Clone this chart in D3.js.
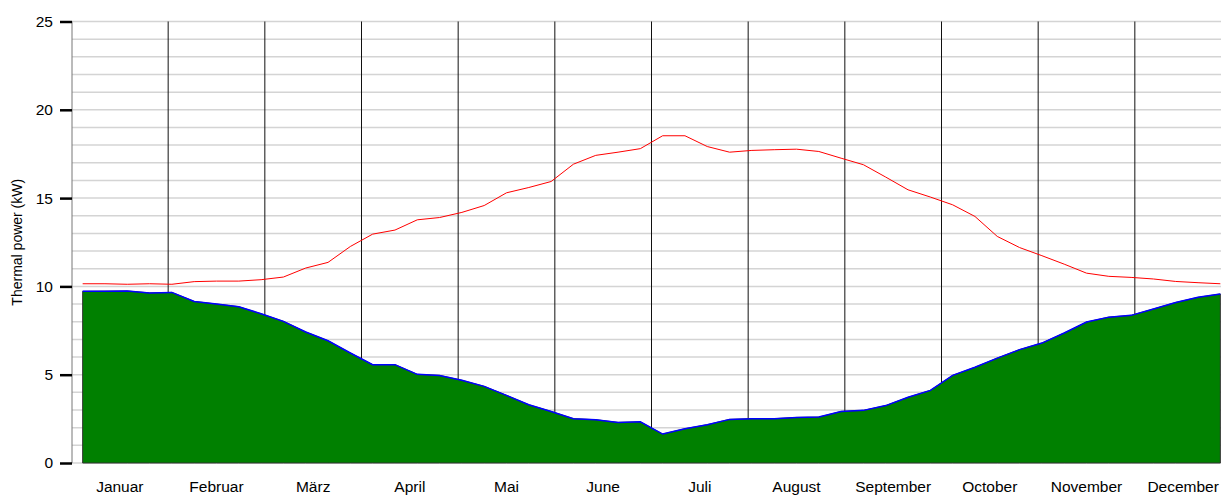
<!DOCTYPE html>
<html>
<head>
<meta charset="utf-8">
<script src="https://cdn.jsdelivr.net/npm/d3@7"></script>
<style>
  body { margin: 0; background: #fff; }
  svg { display: block; font-family: "Liberation Sans", Arial, sans-serif; }
</style>
</head>
<body>
<div id="chart"></div>
<script>
// month names on the x axis
var months = ["Januar", "Februar", "März", "April", "Mai", "June", "Juli",
              "August", "September", "October", "November", "December"];

// weekly values (52 weeks), kW
var upperLine = [10.15, 10.15, 10.12, 10.15, 10.12, 10.27, 10.3, 10.3, 10.38, 10.53,
                 11.04, 11.36, 12.26, 12.96, 13.19, 13.77, 13.9, 14.19, 14.58, 15.3,
                 15.6, 15.94, 16.92, 17.42, 17.6, 17.8, 18.53, 18.53, 17.92, 17.6,
                 17.7, 17.74, 17.77, 17.64, 17.26, 16.89, 16.19, 15.47, 15.06, 14.62,
                 13.96, 12.83, 12.2, 11.74, 11.26, 10.75, 10.57, 10.51, 10.42, 10.28,
                 10.21, 10.15];

var greenArea = [9.72, 9.73, 9.74, 9.63, 9.66, 9.15, 9.0, 8.85, 8.45, 8.02,
                 7.42, 6.92, 6.23, 5.57, 5.57, 5.02, 4.96, 4.68, 4.34, 3.83,
                 3.3, 2.92, 2.51, 2.45, 2.3, 2.33, 1.64, 1.94, 2.17, 2.47,
                 2.51, 2.51, 2.58, 2.6, 2.92, 2.98, 3.25, 3.72, 4.11, 4.96,
                 5.42, 5.94, 6.42, 6.79, 7.36, 7.98, 8.26, 8.36, 8.72, 9.09,
                 9.38, 9.57];

var yTicks = [0, 5, 10, 15, 20, 25];

var svgW = 1221, svgH = 495;
var plotLeft = 71.5, plotTop = 21.5, plotW = 1160, plotBottom = 463;

var svg = d3.select("#chart").append("svg")
            .attr("width", svgW)
            .attr("height", svgH);

// x in months (0..12), weekly points at week centres
var x = d3.scaleLinear().domain([0, 12]).range([plotLeft, plotLeft + plotW]);
var y = d3.scaleLinear().domain([0, 25]).range([plotBottom, plotTop]);
var weekX = function(i){ return x((i + 0.5) * 12 / 52); };

// horizontal grid every 1 kW
var grid = svg.append("g").attr("class", "grid");
grid.selectAll("line").data(d3.range(0, 26)).enter().append("line")
    .attr("x1", 72).attr("x2", svgW)
    .attr("y1", function(d){ return y(d); })
    .attr("y2", function(d){ return y(d); })
    .style("stroke", "#d4d4d4")
    .style("stroke-width", 1.5);

// month separators
svg.append("g").selectAll("line").data(d3.range(1, 12)).enter().append("line")
    .attr("x1", function(d){ return x(d); })
    .attr("x2", function(d){ return x(d); })
    .attr("y1", plotTop).attr("y2", plotBottom)
    .style("stroke", "#111")
    .style("stroke-width", 1);

// green area
var area = d3.area()
    .x(function(d, i){ return weekX(i); })
    .y0(y(0))
    .y1(function(d){ return y(d); });

svg.append("path").datum(greenArea)
    .attr("d", area)
    .style("fill", "#008000")
    .style("stroke", "#333")
    .style("stroke-width", 1);

var line = d3.line()
    .x(function(d, i){ return weekX(i); })
    .y(function(d){ return y(d); });

svg.append("path").datum(greenArea)
    .attr("d", line)
    .style("fill", "none")
    .style("stroke", "#0000ff")
    .style("stroke-width", 1.5);

svg.append("path").datum(upperLine)
    .attr("d", line)
    .style("fill", "none")
    .style("stroke", "#ff0000")
    .style("stroke-width", 1);

// y axis
var yAxis = d3.axisLeft(y).tickValues(yTicks).tickSize(12).tickPadding(7);
var yAxisGroup = svg.append("g")
    .attr("transform", "translate(72,0)")
    .call(yAxis);
yAxisGroup.select(".domain").style("stroke", "#777").attr("d", "M0," + plotTop + "V" + plotBottom);
yAxisGroup.selectAll(".tick line").style("stroke", "#000").style("stroke-width", 2.5);
yAxisGroup.selectAll("text").style("font-size", "15.5px").style("fill", "#000")
    .style("font-family", "'Liberation Sans', Arial, sans-serif");

// month labels
svg.append("g").selectAll("text").data(months).enter().append("text")
    .attr("x", function(d, i){ return x(i + 0.5); })
    .attr("y", 492)
    .attr("text-anchor", "middle")
    .style("font-size", "15.5px")
    .text(function(d){ return d; });

// y title
svg.append("text")
    .attr("transform", "translate(22," + ((plotTop + plotBottom) / 2) + ") rotate(-90)")
    .attr("text-anchor", "middle")
    .style("font-size", "14px")
    .text("Thermal power (kW)");
</script>
</body>
</html>
